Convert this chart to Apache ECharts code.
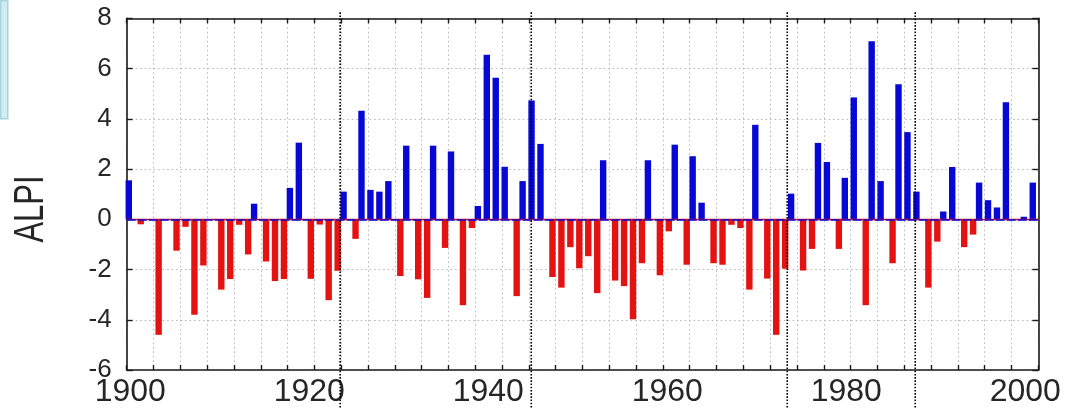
<!DOCTYPE html>
<html>
<head>
<meta charset="utf-8">
<style>
  html, body { margin: 0; padding: 0; background: #ffffff; }
  #chart { width: 1073px; height: 408px; }
</style>
<script src="https://cdn.jsdelivr.net/npm/echarts@6/dist/echarts.min.js"></script>
</head>
<body>
<div id="chart"></div>
<script>
// Aleutian Low Pressure Index, annual values
const firstYear = 1900;
const alpi = [
  1.55, -0.2, 0, -4.6, 0, -1.25, -0.3, -3.8, -1.84, 0,          // 1900-1909
  -2.8, -2.38, -0.22, -1.4, 0.62, -1.68, -2.46, -2.38, 1.25, 3.05, // 1910-1919
  -2.37, -0.21, -3.22, -2.05, 1.1, -0.78, 4.32, 1.17, 1.1, 1.52,   // 1920-1929
  -2.26, 2.93, -2.39, -3.13, 2.93, -1.14, 2.7, -3.42, -0.35, 0.53, // 1930-1939
  6.55, 5.63, 2.09, -3.06, 1.52, 4.73, 3.0, -2.3, -2.72, -1.11,    // 1940-1949
  -1.95, -1.47, -2.94, 2.35, -2.44, -2.66, -3.98, -1.75, 2.35, -2.23, // 1950-1959
  -0.48, 2.97, -1.81, 2.51, 0.66, -1.75, -1.81, -0.22, -0.35, -2.8,  // 1960-1969
  3.76, -2.36, -4.6, -1.97, 1.02, -2.04, -1.18, 3.04, 2.28, -1.18,   // 1970-1979
  1.65, 4.85, -3.42, 7.09, 1.52, -1.75, 5.37, 3.47, 1.1, -2.72,      // 1980-1989
  -0.89, 0.31, 2.08, -1.11, -0.61, 1.46, 0.76, 0.47, 4.66, 0,        // 1990-1999
  0.1, 1.46                                                          // 2000-2001
];
// regime shift markers (dotted vertical lines)
const regimeShifts = [1923.45, 1944.8, 1973.4, 1987.7];
// axis tick labels
const yearLabels = [1900, 1920, 1940, 1960, 1980, 2000];
const yMin = -6, yMax = 8, yStep = 2;
const xMin = 1899.6, xMax = 2001.45;
const minorTickCount = 34;   // evenly spaced grid ticks along the time axis

const years = alpi.map((_, i) => firstYear + i);
const positive = years.map((y, i) => [y, alpi[i] > 0 ? alpi[i] : 0]);
const negative = years.map((y, i) => [y, alpi[i] < 0 ? alpi[i] : 0]);

const BLUE = '#0707d6';
const RED = '#e51212';
const textColor = '#262626';
const FONT = 'Liberation Sans, Arial, sans-serif';
const gridLine = { show: true, lineStyle: { color: '#b5b5b5', type: [1.5, 3], width: 1 } };
const blackLine = { show: true, onZero: false, lineStyle: { color: '#1a1a1a', width: 1.6 } };
const innerTick = len => ({ show: true, inside: true, length: len, lineStyle: { color: '#1a1a1a', width: 1.4 } });

const chart = echarts.init(document.getElementById('chart'), null, { renderer: 'canvas' });
chart.setOption({
  backgroundColor: '#ffffff',
  animation: false,
  grid: { left: 126.7, top: 18.3, width: 911.6, height: 353.4, containLabel: false },
  graphic: [
    {
      type: 'rect', left: 0, top: 0, z: 0,
      shape: { width: 7, height: 118 },
      style: { fill: '#d3ecf0', stroke: '#a9d6de', lineWidth: 1.5 }
    },
    {
      // y-axis title, set upright along the axis
      type: 'text', x: 52, y: 209, rotation: Math.PI / 2, scaleY: 1.35, z: 10,
      style: {
        text: 'ALPI', fill: textColor, font: '31px ' + FONT,
        align: 'center', verticalAlign: 'bottom'
      }
    }
  ],
  xAxis: [
    {
      type: 'value', position: 'bottom', min: xMin, max: xMax,
      axisLine: { show: false, onZero: false },
      axisTick: { show: false },
      splitLine: { show: false },
      axisLabel: {
        customValues: yearLabels,
        formatter: v => String(v),
        margin: 6,
        color: textColor,
        fontFamily: FONT,
        fontSize: 32
      }
    },
    {
      type: 'value', position: 'bottom', min: 0, max: minorTickCount, interval: 1,
      axisLine: blackLine,
      axisTick: innerTick(5),
      axisLabel: { show: false },
      splitLine: gridLine
    },
    {
      type: 'value', position: 'top', min: 0, max: minorTickCount, interval: 1,
      axisLine: blackLine,
      axisTick: innerTick(5),
      axisLabel: { show: false },
      splitLine: { show: false }
    }
  ],
  yAxis: [
    {
      type: 'value', position: 'left', min: yMin, max: yMax, interval: yStep,
      axisLine: blackLine,
      axisTick: innerTick(6),
      splitLine: gridLine,
      axisLabel: {
        margin: 15,
        color: textColor,
        fontFamily: FONT,
        fontSize: 26
      }
    },
    {
      type: 'value', position: 'right', min: yMin, max: yMax, interval: yStep,
      axisLine: blackLine,
      axisTick: innerTick(6),
      splitLine: { show: false },
      axisLabel: { show: false }
    }
  ],
  series: [
    {
      // positive years: left bar of each pair
      name: 'positive', type: 'bar', xAxisIndex: 0, yAxisIndex: 0,
      data: positive, barWidth: 6.4, barGap: '-53%',
      itemStyle: { color: BLUE, borderWidth: 0 },
      markLine: {
        silent: true, symbol: 'none', label: { show: false },
        lineStyle: { color: RED, type: 'solid', width: 1.4 },
        data: [{ yAxis: 0 }]
      },
      z: 3
    },
    {
      // negative years: right bar of each pair
      name: 'negative', type: 'bar', xAxisIndex: 0, yAxisIndex: 0,
      data: negative, barWidth: 6.4, barGap: '-53%',
      itemStyle: { color: RED, borderWidth: 0 },
      markLine: {
        silent: true, symbol: 'none', label: { show: false },
        lineStyle: { color: BLUE, type: [9, 2], width: 1.6 },
        data: [{ yAxis: 0 }]
      },
      z: 3
    },
    {
      name: 'shifts', type: 'custom', xAxisIndex: 0, yAxisIndex: 0,
      data: regimeShifts.map(v => [v, 0]),
      clip: false, z: 5, silent: true,
      renderItem: function (params, api) {
        const x = api.value(0);
        const top = api.coord([x, yMax]);
        const bottom = api.coord([x, yMin]);
        return {
          type: 'line',
          shape: { x1: top[0], y1: top[1] - 6, x2: bottom[0], y2: bottom[1] + 40 },
          style: { stroke: '#000000', lineWidth: 1.6, lineDash: [1.6, 1.6] }
        };
      }
    }
  ]
});
</script>
</body>
</html>
